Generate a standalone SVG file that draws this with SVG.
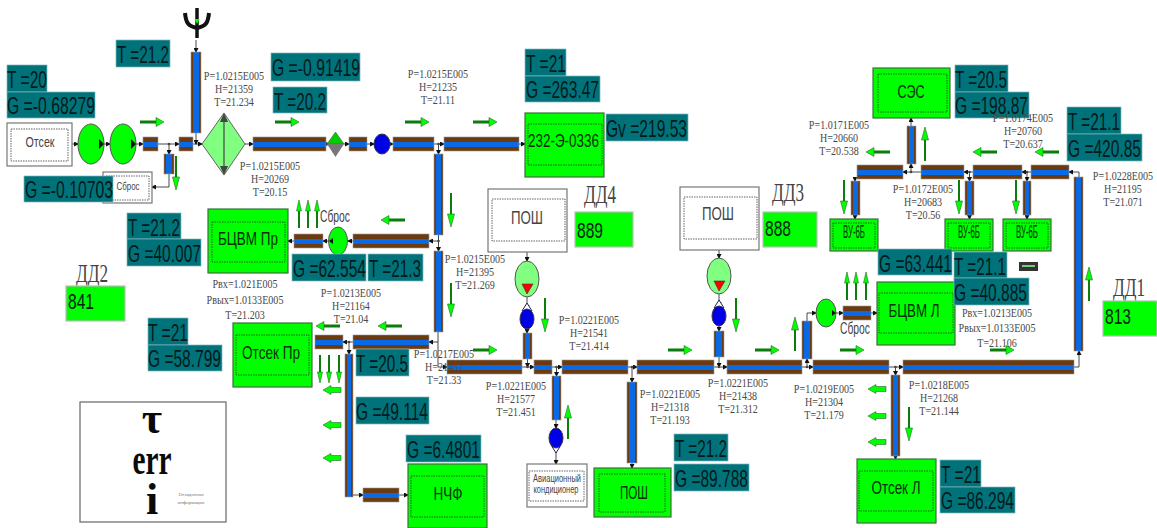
<svg xmlns="http://www.w3.org/2000/svg" width="1157" height="528" viewBox="0 0 1157 528">
<style>
text{font-family:"Liberation Sans",Arial,sans-serif;text-anchor:middle}
.ph{fill:url(#gh);stroke:#999;stroke-width:.6}
.pv{fill:url(#gv);stroke:#999;stroke-width:.6}
.gb{fill:#0f0;stroke:#3c6e3c;stroke-width:1.2}
.wb{fill:#fff;stroke:#777;stroke-width:1.2}
.in{fill:none;stroke:#222;stroke-width:.7;stroke-dasharray:1.5 1}
.vb{fill:#0f0;stroke:#bbb;stroke-width:1.2}
.te{fill:#00737a;stroke:#7fb6ba;stroke-width:.7}
.tt{font-size:24px;fill:#021a1c;text-anchor:start;transform:translateY(1px)}
.bt{font-size:19px;fill:#053005}
.wt{fill:#444}
.v{font-size:22px;fill:#021;text-anchor:start}
.dd{font-family:"Liberation Serif",serif;font-size:25px;fill:#444}
.p{font-family:"Liberation Serif",serif;font-size:12px;fill:#484848}
.leg{font-family:"Liberation Serif",serif;font-weight:bold;font-size:44px;fill:#0a0a0a}
.leg2{font-family:"Liberation Serif",serif;font-size:5px;fill:#777}
.e1{fill:#0f0;stroke:#555;stroke-width:1}
.e2{fill:#80ff80;stroke:#555;stroke-width:1}
.eb{fill:#0000e6;stroke:#334;stroke-width:1}
.tr{fill:#fff;stroke:#225;stroke-width:1}
.k{fill:#111}
.red{fill:#f00;stroke:#333;stroke-width:.6}
#connectors polyline{fill:none;stroke:#333;stroke-width:.9;marker-end:url(#m)}
#junction-dots circle{fill:#444}
.s{fill:#0a7d0a}.h{fill:#0f0;stroke:#2a6a2a;stroke-width:.6}
</style>
<defs>
<linearGradient id="gh" x1="0" y1="0" x2="0" y2="1"><stop offset=".34" stop-color="#6b3a0e"/><stop offset=".34" stop-color="#0a6ae6"/><stop offset=".68" stop-color="#0a6ae6"/><stop offset=".68" stop-color="#6b3a0e"/></linearGradient>
<linearGradient id="gv" x1="0" y1="0" x2="1" y2="0"><stop offset=".22" stop-color="#6b3a0e"/><stop offset=".22" stop-color="#0a6ae6"/><stop offset=".78" stop-color="#0a6ae6"/><stop offset=".78" stop-color="#6b3a0e"/></linearGradient>
<marker id="m" markerWidth="5" markerHeight="5" refX="4" refY="2.5" orient="auto" markerUnits="userSpaceOnUse"><path d="M0 0L5 2.5L0 5z" fill="#111"/></marker>
<g id="ar"><rect class="s" x="0" y="-1.5" width="17" height="3"/><path class="h" d="M16-4.5L24 0L16 4.500z"/></g>
<g id="al"><rect class="s" x="7" y="-1.5" width="17" height="3"/><path class="h" d="M8-4.500L0 0L8 4.500z"/></g>
<g id="ad"><rect class="s" x="-1" y="0" width="2" height="24"/><path class="h" d="M-3.500 21L0 34L3.500 21z"/></g>
<g id="au"><rect class="s" x="-1" y="10" width="2" height="24"/><path class="h" d="M-3.500 13L0 0L3.500 13z"/></g>
<g id="ad3"><rect class="s" x="-1" y="0" width="2" height="20"/><path class="h" d="M-2.500 17L0 28L2.500 17z"/></g>
<g id="au3"><rect class="s" x="-1" y="8" width="2" height="20"/><path class="h" d="M-2.500 11L0 0L2.500 11z"/></g>
<path id="fl" class="h" d="M0 0L8-4.500V-2.500H18V2.500H8V4.500z"/>
</defs>

<g id="connectors">
<polyline points="72,144 78,144"/><polyline points="104,144 110,144"/><polyline points="136,144 143,144"/>
<polyline points="158,144 179,144"/><polyline points="169,144 169,154"/><polyline points="193,144 202,144"/>
<polyline points="196,40 196,52"/><polyline points="196,133 196,144"/><polyline points="245,144 253,144"/>
<polyline points="326,144 329,144"/><polyline points="344,144 349,144"/><polyline points="367,144 374,144"/>
<polyline points="390,144 393,144"/><polyline points="434,144 444,144"/><polyline points="438.5,144 438.5,154"/>
<polyline points="519,144 525,144"/><polyline points="169,174 169,187 152,187"/>
<polyline points="438.5,235 438.5,251"/><polyline points="438,241 429,241"/><polyline points="353,241 348,241"/>
<polyline points="329,241 323,241"/><polyline points="294,241 288,241"/>
<polyline points="438,332 438,342 429,342"/><polyline points="353,342 343,342"/><polyline points="349,342 349,354"/>
<polyline points="349,495 363,495"/><polyline points="399,495 408,495"/>
<polyline points="438,342 438,367 447,367"/><polyline points="522,367 534,367"/><polyline points="527.5,357 527.5,367"/>
<polyline points="552,367 562,367"/><polyline points="556.5,367 556.5,376"/><polyline points="628,367 637,367"/>
<polyline points="632,367 632,382"/><polyline points="714,367 727,367"/><polyline points="719,357 719,367"/>
<polyline points="802,367 813,367"/><polyline points="807,367 807,359"/><polyline points="889,367 903,367"/>
<polyline points="895.5,367 895.5,375"/><polyline points="1074,367 1079,367 1079,351"/><polyline points="1079,177 1079,172 1069,172"/>
<polyline points="1031,172 1022,172"/><polyline points="1027,172 1027,181"/><polyline points="973,172 964,172"/>
<polyline points="969.5,172 969.5,181"/><polyline points="921,172 903,172"/><polyline points="911,172 911,164"/>
<polyline points="911,126 911,118"/><polyline points="855,179 855,181"/><polyline points="855,215 855,219"/>
<polyline points="969.5,215 969.5,219"/><polyline points="1027,215 1027,219"/>
<polyline points="527,252 527,261"/><polyline points="527,297 527,309"/><polyline points="527,329 527,333"/>
<polyline points="719,250 719,258"/><polyline points="719,294 719,306"/><polyline points="719,326 719,331"/>
<polyline points="807,321 807,313 816,313"/><polyline points="836,313 843,313"/><polyline points="871,313 877,313"/>
<polyline points="556,420 556,428"/><polyline points="556,448 556,464"/><polyline points="632,463 632,468"/><polyline points="895.5,456 895.5,459"/>
</g>
<g id="junction-dots">
<circle cx="169" cy="144" r="1.3"/><circle cx="438.5" cy="144" r="1.3"/><circle cx="438.5" cy="241" r="1.3"/><circle cx="349" cy="342" r="1.3"/><circle cx="527.5" cy="367" r="1.3"/><circle cx="556.5" cy="367" r="1.3"/><circle cx="632" cy="367" r="1.3"/><circle cx="719" cy="367" r="1.3"/><circle cx="807" cy="367" r="1.3"/><circle cx="895.5" cy="367" r="1.3"/><circle cx="1027" cy="172" r="1.3"/><circle cx="969.5" cy="172" r="1.3"/><circle cx="911" cy="172" r="1.3"/>
</g>

<g id="pipes">
<rect class="ph" x="143" y="137" width="15" height="14"/><rect class="ph" x="179" y="137" width="14" height="14"/>
<rect class="ph" x="253" y="137" width="73" height="14"/><rect class="ph" x="349" y="137" width="18" height="14"/>
<rect class="ph" x="393" y="137" width="41" height="14"/><rect class="ph" x="444" y="137" width="75" height="14"/>
<rect class="ph" x="294" y="234" width="29" height="14"/><rect class="ph" x="353" y="234" width="76" height="14"/>
<rect class="ph" x="353" y="335" width="76" height="14"/><rect class="ph" x="315" y="335" width="28" height="14"/>
<rect class="ph" x="363" y="488" width="36" height="14"/><rect class="ph" x="447" y="360" width="75" height="14"/>
<rect class="ph" x="534" y="360" width="18" height="14"/><rect class="ph" x="562" y="360" width="66" height="14"/>
<rect class="ph" x="637" y="360" width="77" height="14"/><rect class="ph" x="727" y="360" width="75" height="14"/>
<rect class="ph" x="813" y="360" width="76" height="14"/><rect class="ph" x="903" y="360" width="171" height="14"/>
<rect class="ph" x="843" y="306" width="28" height="14"/><rect class="ph" x="857" y="165" width="46" height="14"/>
<rect class="ph" x="921" y="165" width="43" height="14"/><rect class="ph" x="973" y="165" width="49" height="14"/>
<rect class="ph" x="1031" y="165" width="38" height="14"/>
<rect class="pv" x="191" y="52" width="10" height="81"/><rect class="pv" x="164" y="154" width="10" height="20"/>
<rect class="pv" x="434" y="154" width="9" height="81"/><rect class="pv" x="434" y="251" width="9" height="81"/>
<rect class="pv" x="345" y="354" width="8" height="143"/><rect class="pv" x="523" y="333" width="9" height="26"/>
<rect class="pv" x="714" y="331" width="10" height="26"/><rect class="pv" x="802" y="321" width="10" height="38"/>
<rect class="pv" x="552" y="376" width="9" height="44"/><rect class="pv" x="627" y="382" width="10" height="81"/>
<rect class="pv" x="891" y="375" width="9" height="81"/><rect class="pv" x="1074" y="177" width="9" height="174"/>
<rect class="pv" x="907" y="126" width="9" height="38"/><rect class="pv" x="851" y="181" width="9" height="34"/>
<rect class="pv" x="965" y="181" width="9" height="34"/><rect class="pv" x="1023" y="181" width="8" height="34"/>
</g>

<g id="otsek"><rect class="wb" x="7" y="123" width="65" height="43"/><rect class="in" x="11" y="129" width="57" height="32"/><text class="wt" x="40" y="147" font-size="15" textLength="29" lengthAdjust="spacingAndGlyphs">Отсек</text></g>
<g id="fan1"><ellipse class="e1" cx="91" cy="144" rx="13" ry="20"/><path class="k" d="M99 139L104 144L99 149z"/></g>
<g id="fan2"><ellipse class="e1" cx="123" cy="144" rx="13" ry="20"/><path class="k" d="M131 139L136 144L131 149z"/></g>
<g id="sbros1"><rect class="wb" x="103" y="172" width="49" height="31"/><rect class="in" x="106" y="176" width="43" height="24"/><text class="wt" x="128" y="190" font-size="11" textLength="23" lengthAdjust="spacingAndGlyphs">Сброс</text></g>
<g id="antenna"><path d="M185 13C186 23 188 26 197 28C206 26 208 23 209 13" fill="none" stroke="#111" stroke-width="4"/><path d="M197 8V38" stroke="#111" stroke-width="3.500"/><path d="M194.500 19h5l-2.500 5z" fill="#0f0"/></g>
<g id="mixer"><path d="M224 113L245 144L224 175L202 144z" fill="#80ff80" stroke="#666"/><path d="M224 116V172" stroke="#444" stroke-width="1.2"/><path d="M220 122L224 113L228 122zM220 166L224 175L228 166z" fill="#444"/></g>
<g id="valve1"><path d="M327 144L335.500 132L344 144z" fill="#0c0" stroke="#555" stroke-width=".6"/><path d="M327 144L335.500 157L344 144z" fill="#777"/></g>
<g id="pump1"><path class="tr" d="M374 144L380 138V150z"/><ellipse class="eb" cx="382" cy="144" rx="8" ry="10"/></g>
<g id="node-232"><rect class="gb" x="525" y="113" width="79" height="64"/><rect class="in" x="528" y="124" width="74" height="41"/><text class="bt" x="563.500" y="147" font-size="18" textLength="71" lengthAdjust="spacingAndGlyphs">232-Э-0336</text></g>
<g id="bcvm-pr"><rect class="gb" x="208" y="209" width="80" height="64"/><rect class="in" x="212" y="222" width="73" height="40"/><text class="bt" x="248" y="245" textLength="60" lengthAdjust="spacingAndGlyphs">БЦВМ Пр</text></g>
<g id="fan3"><ellipse class="e1" cx="338" cy="241" rx="9.500" ry="14"/><path class="k" d="M329 241L333 238V244z"/></g>
<g id="otsek-pr"><rect class="gb" x="233" y="323" width="79" height="64"/><rect class="in" x="236" y="335" width="73" height="40"/><text class="bt" x="271" y="359" textLength="58" lengthAdjust="spacingAndGlyphs">Отсек Пр</text></g>
<g id="nchf"><rect class="gb" x="408" y="464" width="79" height="64"/><rect class="in" x="411" y="476" width="73" height="41"/><text class="bt" x="448" y="500" textLength="29" lengthAdjust="spacingAndGlyphs">НЧФ</text></g>
<g id="posh-green"><rect class="gb" x="594" y="468" width="77" height="49"/><rect class="in" x="599" y="474" width="66" height="38"/><text class="bt" x="634" y="499" textLength="28" lengthAdjust="spacingAndGlyphs">ПОШ</text></g>
<g id="otsek-l"><rect class="gb" x="857" y="459" width="79" height="64"/><rect class="in" x="859" y="471" width="74" height="40"/><text class="bt" x="896" y="494" textLength="49" lengthAdjust="spacingAndGlyphs">Отсек Л</text></g>
<g id="bcvm-l"><rect class="gb" x="877" y="282" width="78" height="63"/><rect class="in" x="879" y="293" width="74" height="40"/><text class="bt" x="914" y="317" textLength="51" lengthAdjust="spacingAndGlyphs">БЦВМ Л</text></g>
<g id="fan4"><ellipse class="e1" cx="826" cy="313" rx="10" ry="14"/><path class="k" d="M832 310L836 313L832 316z"/></g>
<g id="ses"><rect class="gb" x="873" y="68" width="77" height="50"/><rect class="in" x="878" y="74" width="69" height="38"/><text class="bt" x="911" y="98" textLength="27" lengthAdjust="spacingAndGlyphs">СЭС</text></g>
<g id="vu1"><rect class="gb" x="830" y="219" width="48" height="32"/><rect class="in" x="833" y="223" width="42" height="25"/><text class="bt" x="854" y="238" font-size="11" textLength="22" lengthAdjust="spacingAndGlyphs">ВУ-6Б</text></g>
<g id="vu2"><rect class="gb" x="945" y="219" width="48" height="32"/><rect class="in" x="948" y="223" width="42" height="25"/><text class="bt" x="969" y="238" font-size="11" textLength="22" lengthAdjust="spacingAndGlyphs">ВУ-6Б</text></g>
<g id="vu3"><rect class="gb" x="1003" y="219" width="48" height="32"/><rect class="in" x="1006" y="223" width="42" height="25"/><text class="bt" x="1027" y="238" font-size="11" textLength="22" lengthAdjust="spacingAndGlyphs">ВУ-6Б</text></g>
<g id="posh-dd4"><rect class="wb" x="488" y="189" width="79" height="63"/><rect class="in" x="492" y="199" width="73" height="42"/><text class="wt" x="527" y="224" font-size="19" textLength="32" lengthAdjust="spacingAndGlyphs">ПОШ</text></g>
<g id="posh-dd3"><rect class="wb" x="680" y="187" width="79" height="63"/><rect class="in" x="684" y="197" width="73" height="42"/><text class="wt" x="718" y="220" font-size="19" textLength="32" lengthAdjust="spacingAndGlyphs">ПОШ</text></g>
<g id="fan5"><ellipse class="e2" cx="527" cy="279" rx="12" ry="18"/><path class="red" d="M522 284L533 284L527 294z"/></g>
<g id="fan6"><ellipse class="e2" cx="719" cy="276" rx="12" ry="18"/><path class="red" d="M714 281L725 281L719 291z"/></g>
<g id="pump2"><path class="tr" d="M527 303L522 311H532z"/><ellipse class="eb" cx="527" cy="319" rx="7" ry="10"/></g>
<g id="pump3"><path class="tr" d="M719 300L714 308H724z"/><ellipse class="eb" cx="719" cy="316" rx="7" ry="10"/></g>
<g id="pump4"><path class="tr" d="M556 453L551 445H561z"/><ellipse class="eb" cx="556" cy="438" rx="7" ry="10"/></g>
<g id="conditioner"><rect class="wb" x="527" y="464" width="60" height="43"/><rect class="in" x="529" y="471" width="55" height="30"/><text class="wt" x="557" y="482" font-size="10" textLength="48" lengthAdjust="spacingAndGlyphs">Авиационный</text><text class="wt" x="556" y="493" font-size="10" textLength="45" lengthAdjust="spacingAndGlyphs">кондиционер</text></g>

<g id="dd4"><text class="dd" x="600" y="203" textLength="32" lengthAdjust="spacingAndGlyphs">ДД4</text><rect class="vb" x="575" y="212" width="58" height="35"/><text class="v" x="577" y="238" textLength="26" lengthAdjust="spacingAndGlyphs">889</text></g>
<g id="dd3"><text class="dd" x="788" y="201" textLength="32" lengthAdjust="spacingAndGlyphs">ДД3</text><rect class="vb" x="763" y="212" width="54" height="35"/><text class="v" x="765" y="236" textLength="26" lengthAdjust="spacingAndGlyphs">888</text></g>
<g id="dd2"><text class="dd" x="92" y="282" textLength="32" lengthAdjust="spacingAndGlyphs">ДД2</text><rect class="vb" x="66" y="286" width="59" height="35"/><text class="v" x="68" y="309" textLength="26" lengthAdjust="spacingAndGlyphs">841</text></g>
<g id="dd1"><text class="dd" x="1129" y="296" textLength="32" lengthAdjust="spacingAndGlyphs">ДД1</text><rect class="vb" x="1103" y="301" width="54" height="35"/><text class="v" x="1105" y="324" textLength="26" lengthAdjust="spacingAndGlyphs">813</text></g>

<g id="legend"><rect x="80" y="402" width="146" height="120" fill="#fff" stroke="#666" stroke-width="1.2"/><text class="leg" x="152" y="433">τ</text><text class="leg" x="152" y="474" textLength="39" lengthAdjust="spacingAndGlyphs">err</text><text class="leg" x="152" y="514">i</text><text class="leg2" x="191" y="496">Отладочная</text><text class="leg2" x="191" y="504">информация</text></g>
<g id="icon"><rect x="1019" y="262" width="19" height="9" fill="#333"/><rect x="1022" y="265" width="13" height="2" fill="#7c7"/></g>

<g id="flow-arrows">
<use href="#ar" x="140" y="122"/><use href="#ar" x="275" y="122"/><use href="#ar" x="405" y="122"/><use href="#ar" x="473" y="122"/>
<use href="#ar" x="473" y="350"/><use href="#ar" x="668" y="350"/><use href="#ar" x="755" y="350"/><use href="#ar" x="840" y="350"/><use href="#ar" x="990" y="350"/>
<use href="#al" x="381" y="220"/><use href="#al" x="316" y="326"/><use href="#al" x="378" y="326"/><use href="#al" x="866" y="152"/><use href="#al" x="973" y="152"/><use href="#al" x="1035" y="152"/>
<use href="#ad" x="176" y="156"/><use href="#ad" x="451" y="193"/><use href="#ad" x="451" y="283"/><use href="#ad" x="545" y="298"/><use href="#ad" x="736" y="298"/><use href="#ad" x="909" y="407"/><use href="#ad" x="844" y="180"/><use href="#ad" x="959" y="180"/><use href="#ad" x="1016" y="180"/>
<use href="#au" x="568" y="405"/><use href="#au" x="795" y="317"/><use href="#au" x="1089" y="267"/><use href="#au" x="925" y="127"/>
<use href="#au3" x="299" y="200"/><use href="#au3" x="308" y="200"/><use href="#au3" x="317" y="200"/><use href="#au3" x="847" y="272"/><use href="#au3" x="856" y="272"/><use href="#au3" x="866" y="272"/>
<use href="#ad3" x="320" y="355"/><use href="#ad3" x="329" y="355"/><use href="#ad3" x="339" y="355"/>
<use href="#fl" x="323" y="390"/><use href="#fl" x="323" y="425"/><use href="#fl" x="323" y="458"/><use href="#fl" x="868" y="389"/><use href="#fl" x="868" y="416"/><use href="#fl" x="868" y="442"/>
</g>

<g id="readouts">
<text class="p" transform="translate(234 0) scale(.84 1)"><tspan x="0" y="80">P=1.0215E005</tspan><tspan x="0" y="93">H=21359</tspan><tspan x="0" y="106">T=21.234</tspan></text>
<text class="p" transform="translate(270 0) scale(.84 1)"><tspan x="0" y="170">P=1.0215E005</tspan><tspan x="0" y="183">H=20269</tspan><tspan x="0" y="196">T=20.15</tspan></text>
<text class="p" transform="translate(438 0) scale(.84 1)"><tspan x="0" y="78">P=1.0215E005</tspan><tspan x="0" y="91">H=21235</tspan><tspan x="0" y="104">T=21.11</tspan></text>
<text class="p" transform="translate(475 0) scale(.84 1)"><tspan x="0" y="263">P=1.0215E005</tspan><tspan x="0" y="276">H=21395</tspan><tspan x="0" y="289">T=21.269</tspan></text>
<text class="p" transform="translate(245 0) scale(.84 1)"><tspan x="0" y="288">Рвх=1.021E005</tspan><tspan x="0" y="304">Рвых=1.0133E005</tspan><tspan x="0" y="319">T=21.203</tspan></text>
<text class="p" transform="translate(351 0) scale(.84 1)"><tspan x="0" y="297">P=1.0213E005</tspan><tspan x="0" y="310">H=21164</tspan><tspan x="0" y="323">T=21.04</tspan></text>
<text class="p" transform="translate(444 0) scale(.84 1)"><tspan x="0" y="358">P=1.0217E005</tspan><tspan x="0" y="371">H=21457</tspan><tspan x="0" y="384">T=21.33</tspan></text>
<text class="p" transform="translate(589 0) scale(.84 1)"><tspan x="0" y="324">P=1.0221E005</tspan><tspan x="0" y="337">H=21541</tspan><tspan x="0" y="350">T=21.414</tspan></text>
<text class="p" transform="translate(516 0) scale(.84 1)"><tspan x="0" y="390">P=1.0221E005</tspan><tspan x="0" y="403">H=21577</tspan><tspan x="0" y="416">T=21.451</tspan></text>
<text class="p" transform="translate(670 0) scale(.84 1)"><tspan x="0" y="398">P=1.0221E005</tspan><tspan x="0" y="411">H=21318</tspan><tspan x="0" y="424">T=21.193</tspan></text>
<text class="p" transform="translate(738 0) scale(.84 1)"><tspan x="0" y="387">P=1.0221E005</tspan><tspan x="0" y="400">H=21438</tspan><tspan x="0" y="413">T=21.312</tspan></text>
<text class="p" transform="translate(824 0) scale(.84 1)"><tspan x="0" y="393">P=1.0219E005</tspan><tspan x="0" y="406">H=21304</tspan><tspan x="0" y="419">T=21.179</tspan></text>
<text class="p" transform="translate(939 0) scale(.84 1)"><tspan x="0" y="389">P=1.0218E005</tspan><tspan x="0" y="402">H=21268</tspan><tspan x="0" y="415">T=21.144</tspan></text>
<text class="p" transform="translate(997 0) scale(.84 1)"><tspan x="0" y="317">Рвх=1.0213E005</tspan><tspan x="0" y="332">Рвых=1.0133E005</tspan><tspan x="0" y="347">T=21.106</tspan></text>
<text class="p" transform="translate(839 0) scale(.84 1)"><tspan x="0" y="129">P=1.0171E005</tspan><tspan x="0" y="142">H=20660</tspan><tspan x="0" y="155">T=20.538</tspan></text>
<text class="p" transform="translate(923 0) scale(.84 1)"><tspan x="0" y="193">P=1.0172E005</tspan><tspan x="0" y="206">H=20683</tspan><tspan x="0" y="219">T=20.56</tspan></text>
<text class="p" transform="translate(1123 0) scale(.84 1)"><tspan x="0" y="180">P=1.0228E005</tspan><tspan x="0" y="193">H=21195</tspan><tspan x="0" y="206">T=21.071</tspan></text>
<text class="wt" x="335" y="222" font-size="16" textLength="30" lengthAdjust="spacingAndGlyphs">Сброс</text>
<text class="wt" x="855" y="334" font-size="16" textLength="30" lengthAdjust="spacingAndGlyphs">Сброс</text>
</g>

<g id="teal-labels">
<rect class="te" x="116" y="40" width="54" height="27"/><text class="tt" x="117" y="62" textLength="52" lengthAdjust="spacingAndGlyphs">T =21.2</text>
<rect class="te" x="7" y="65" width="40" height="27"/><text class="tt" x="7" y="87" textLength="40" lengthAdjust="spacingAndGlyphs">T =20</text>
<rect class="te" x="7" y="92" width="88" height="26"/><text class="tt" x="7" y="113" textLength="88" lengthAdjust="spacingAndGlyphs">G =-0.68279</text>
<rect class="te" x="271" y="53" width="89" height="28"/><text class="tt" x="272" y="75" textLength="88" lengthAdjust="spacingAndGlyphs">G =-0.91419</text>
<rect class="te" x="273" y="87" width="54" height="26"/><text class="tt" x="274" y="109" textLength="52" lengthAdjust="spacingAndGlyphs">T =20.2</text>
<rect class="te" x="24" y="176" width="89" height="26"/><text class="tt" x="25" y="197" textLength="88" lengthAdjust="spacingAndGlyphs">G =-0.10703</text>
<rect class="te" x="127" y="213" width="54" height="26"/><text class="tt" x="128" y="235" textLength="52" lengthAdjust="spacingAndGlyphs">T =21.2</text>
<rect class="te" x="127" y="239" width="74" height="27"/><text class="tt" x="128" y="261" textLength="73" lengthAdjust="spacingAndGlyphs">G =40.007</text>
<rect class="te" x="292" y="254" width="74" height="27"/><text class="tt" x="293" y="276" textLength="73" lengthAdjust="spacingAndGlyphs">G =62.554</text>
<rect class="te" x="368" y="254" width="55" height="27"/><text class="tt" x="369" y="276" textLength="52" lengthAdjust="spacingAndGlyphs">T =21.3</text>
<rect class="te" x="525" y="49" width="41" height="27"/><text class="tt" x="526" y="71" textLength="40" lengthAdjust="spacingAndGlyphs">T =21</text>
<rect class="te" x="525" y="76" width="75" height="26"/><text class="tt" x="526" y="97" textLength="73" lengthAdjust="spacingAndGlyphs">G =263.47</text>
<rect class="te" x="606" y="114" width="82" height="27"/><text class="tt" x="606" y="136" textLength="81" lengthAdjust="spacingAndGlyphs">Gv =219.53</text>
<rect class="te" x="955" y="65" width="53" height="27"/><text class="tt" x="955" y="87" textLength="52" lengthAdjust="spacingAndGlyphs">T =20.5</text>
<rect class="te" x="955" y="92" width="74" height="26"/><text class="tt" x="955" y="113" textLength="73" lengthAdjust="spacingAndGlyphs">G =198.87</text>
<rect class="te" x="1067" y="107" width="54" height="27"/><text class="tt" x="1068" y="129" textLength="52" lengthAdjust="spacingAndGlyphs">T =21.1</text>
<rect class="te" x="1067" y="134" width="75" height="27"/><text class="tt" x="1068" y="156" textLength="73" lengthAdjust="spacingAndGlyphs">G =420.85</text>
<rect class="te" x="878" y="249" width="74" height="26"/><text class="tt" x="879" y="271" textLength="73" lengthAdjust="spacingAndGlyphs">G =63.441</text>
<rect class="te" x="954" y="252" width="53" height="26"/><text class="tt" x="954" y="274" textLength="52" lengthAdjust="spacingAndGlyphs">T =21.1</text>
<rect class="te" x="954" y="278" width="75" height="27"/><text class="tt" x="954" y="300" textLength="73" lengthAdjust="spacingAndGlyphs">G =40.885</text>
<rect class="te" x="148" y="318" width="40" height="27"/><text class="tt" x="148" y="340" textLength="40" lengthAdjust="spacingAndGlyphs">T =21</text>
<rect class="te" x="148" y="345" width="74" height="26"/><text class="tt" x="148" y="366" textLength="73" lengthAdjust="spacingAndGlyphs">G =58.799</text>
<rect class="te" x="356" y="349" width="53" height="27"/><text class="tt" x="356" y="371" textLength="52" lengthAdjust="spacingAndGlyphs">T =20.5</text>
<rect class="te" x="356" y="397" width="73" height="27"/><text class="tt" x="356" y="419" textLength="72" lengthAdjust="spacingAndGlyphs">G =49.114</text>
<rect class="te" x="406" y="435" width="75" height="27"/><text class="tt" x="407" y="457" textLength="73" lengthAdjust="spacingAndGlyphs">G =6.4801</text>
<rect class="te" x="674" y="434" width="54" height="27"/><text class="tt" x="675" y="456" textLength="52" lengthAdjust="spacingAndGlyphs">T =21.2</text>
<rect class="te" x="674" y="464" width="75" height="27"/><text class="tt" x="675" y="486" textLength="73" lengthAdjust="spacingAndGlyphs">G =89.788</text>
<rect class="te" x="940" y="460" width="41" height="27"/><text class="tt" x="941" y="482" textLength="40" lengthAdjust="spacingAndGlyphs">T =21</text>
<rect class="te" x="940" y="487" width="75" height="26"/><text class="tt" x="941" y="508" textLength="73" lengthAdjust="spacingAndGlyphs">G =86.294</text>
</g>
<text class="p" transform="translate(1023 0) scale(.84 1)"><tspan x="0" y="122">P=1.0174E005</tspan><tspan x="0" y="135">H=20760</tspan><tspan x="0" y="148">T=20.637</tspan></text>
</svg>
